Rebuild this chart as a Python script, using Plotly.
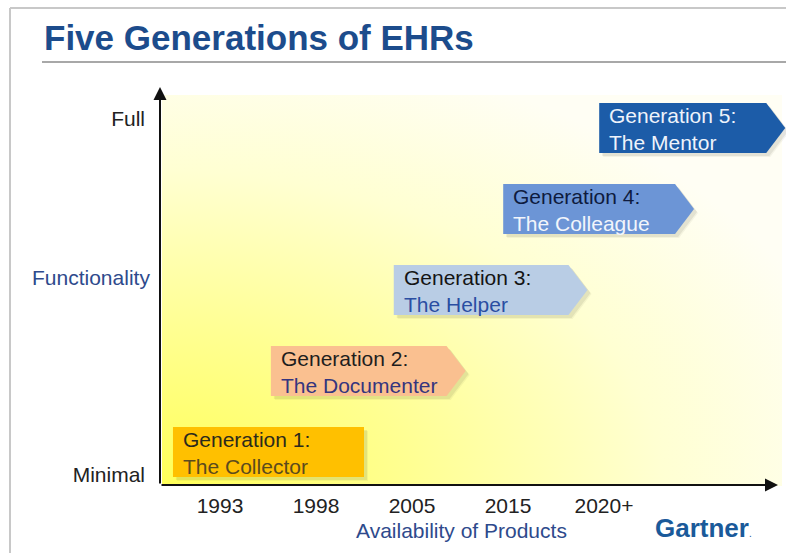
import base64
import plotly.graph_objects as go

# ---------------- data ----------------
gen_titles = ["Generation 1:", "Generation 2:", "Generation 3:", "Generation 4:", "Generation 5:"]
gen_names = ["The Collector", "The Documenter", "The Helper", "The Colleague", "The Mentor"]
gen_start = [-0.49, 0.53, 1.81, 2.95, 3.95]   # in "availability slot" units (tick index)
gen_end = [1.50, 2.36, 3.63, 4.74, 5.69]
gen_level = [1, 2, 3, 4, 5]                    # functionality level
year_labels = ["1993", "1998", "2005", "2015", "2020+"]
func_labels = ["Minimal", "Full"]

# ---------------- styles ----------------
fills = ["#FFC000", "#FAC090", "#B9CDE5", "#6C95D6", "#1C5CA8"]
line1_colors = ["#2B2A1C", "#1E1E1E", "#141414", "#0E1B3E", "#EEF3FB"]
line2_colors = ["#5B4B1E", "#35357E", "#2A4EA2", "#F2F5FB", "#EEF3FB"]
tip_px = [0, 19, 19, 19, 19]
FONT = "Liberation Sans, Arial, sans-serif"
BLUE_TXT = "#2E4A8C"

W, H = 786, 553
PL, PR, PT, PB = 160, 786, 87, 485
X0_PX, X_PX = 220, 96          # pixel of first tick, pixels per slot
L1_PX, Y_PX = 452, 81          # pixel of level 1, pixels per level


def pxx(xp):
    return (xp - PL) / (PR - PL)


def pxy(yp):
    return (PB - yp) / (PB - PT)


def lev(yp):
    return 1 + (L1_PX - yp) / Y_PX


x_range = [(PL - X0_PX) / X_PX, (PR - X0_PX) / X_PX]
y_range = [lev(PB), lev(PT)]
half_h = 25 / Y_PX

fig = go.Figure()

# boxes
for i in range(len(gen_titles)):
    s, e, L = gen_start[i], gen_end[i], gen_level[i]
    t = tip_px[i] / X_PX
    xs = [s, e, e + t, e, s, s]
    ys = [L + half_h, L + half_h, L, L - half_h, L - half_h, L + half_h]
    for k, a in ((4, 0.06), (3, 0.09)):
        dx, dy = k / X_PX, -k / Y_PX
        fig.add_trace(go.Scatter(x=[v + dx for v in xs], y=[v + dy for v in ys], fill="toself",
                                 fillcolor=f"rgba(60,60,40,{a})", line=dict(width=0),
                                 mode="lines", hoverinfo="skip", showlegend=False))
    fig.add_trace(go.Scatter(x=xs, y=ys, fill="toself", fillcolor=fills[i],
                             line=dict(width=0), mode="lines", hoverinfo="skip",
                             showlegend=False))

annotations = []
for i in range(len(gen_titles)):
    annotations.append(dict(
        x=gen_start[i], y=gen_level[i], xref="x", yref="y", xshift=8, yshift=-1,
        xanchor="left", yanchor="middle", align="left", showarrow=False,
        text=(f"<span style='color:{line1_colors[i]}'>{gen_titles[i]}</span><br>"
              f"<span style='color:{line2_colors[i]}'>{gen_names[i]}</span>"),
        font=dict(family=FONT, size=21)))

# axis arrows
annotations.append(dict(x=pxx(778), y=0, ax=0, ay=0, xref="x domain", yref="y domain",
                        axref="x domain", ayref="y domain", text="", showarrow=True,
                        arrowhead=2, arrowsize=1.3, arrowwidth=2, arrowcolor="#111111"))
annotations.append(dict(x=0, y=1, ax=0, ay=0, xref="x domain", yref="y domain",
                        axref="x domain", ayref="y domain", text="", showarrow=True,
                        arrowhead=2, arrowsize=1.3, arrowwidth=2, arrowcolor="#111111"))

# texts
annotations.append(dict(x=pxx(42), y=pxy(38), xref="paper", yref="paper", xanchor="left",
                        yanchor="middle", showarrow=False, text="<b>Five Generations of EHRs</b>",
                        font=dict(family=FONT, size=35, color="#1C4C8C")))
annotations.append(dict(x=pxx(91), y=pxy(277), xref="paper", yref="paper", xanchor="center",
                        yanchor="middle", showarrow=False, text="Functionality",
                        font=dict(family=FONT, size=21, color=BLUE_TXT)))
annotations.append(dict(x=pxx(461), y=pxy(530), xref="paper", yref="paper", xanchor="center",
                        yanchor="middle", showarrow=False, text="Availability of Products",
                        font=dict(family=FONT, size=21, color=BLUE_TXT)))
annotations.append(dict(x=pxx(703), y=pxy(528), xref="paper", yref="paper", xanchor="center",
                        yanchor="middle", showarrow=False,
                        text="<b>Gartner</b><span style='font-size:10px'>.</span>",
                        font=dict(family=FONT, size=26, color="#1A5A9A")))

svg = ('<svg xmlns="http://www.w3.org/2000/svg" width="100" height="100" viewBox="0 0 100 100" '
       'preserveAspectRatio="none"><defs><radialGradient id="g" cx="0" cy="1" r="1.15" '
       'gradientUnits="objectBoundingBox">'
       '<stop offset="0" stop-color="#FFFF58"/><stop offset="0.35" stop-color="#FFFF92"/>'
       '<stop offset="0.7" stop-color="#FFFFD2"/><stop offset="1" stop-color="#FFFEF4"/>'
       '</radialGradient></defs><rect width="100" height="100" fill="url(#g)"/></svg>')
src = "data:image/svg+xml;base64," + base64.b64encode(svg.encode()).decode()

fig.update_layout(
    width=W, height=H, autosize=False,
    margin=dict(l=PL, r=W - PR, t=PT, b=H - PB, pad=0),
    paper_bgcolor="white", plot_bgcolor="white",
    showlegend=False,
    xaxis=dict(range=x_range, showgrid=False, zeroline=False, showline=False,
               tickmode="array", tickvals=list(range(len(year_labels))), ticktext=year_labels,
               ticks="", ticklabelstandoff=6, automargin=False,
               tickfont=dict(family=FONT, size=21, color="#222222"), fixedrange=True),
    yaxis=dict(range=y_range, showgrid=False, zeroline=False, showline=False,
               tickmode="array", tickvals=[lev(475), lev(119)], ticktext=func_labels,
               ticks="", ticklabelstandoff=14, automargin=False,
               tickfont=dict(family=FONT, size=21, color="#222222"), fixedrange=True),
    annotations=annotations,
    images=[dict(source=src, xref="paper", yref="paper", x=pxx(162), y=pxy(95),
                 sizex=pxx(782) - pxx(162), sizey=pxy(95) - pxy(486), xanchor="left",
                 yanchor="top", sizing="stretch", layer="below")],
    shapes=[
        dict(type="line", xref="paper", yref="paper", x0=pxx(42), x1=1, y0=pxy(62), y1=pxy(62),
             line=dict(color="#A8A8A8", width=2)),
        dict(type="line", xref="paper", yref="paper", x0=pxx(10), x1=pxx(10), y0=pxy(553),
             y1=pxy(8), line=dict(color="#C8C8C8", width=2)),
        dict(type="line", xref="paper", yref="paper", x0=pxx(10), x1=1, y0=pxy(8), y1=pxy(8),
             line=dict(color="#C8C8C8", width=2)),
    ],
)

fig.write_html("out.html", config={"displayModeBar": False},
               post_script="document.body.style.margin='0';document.body.style.overflow='hidden';")
